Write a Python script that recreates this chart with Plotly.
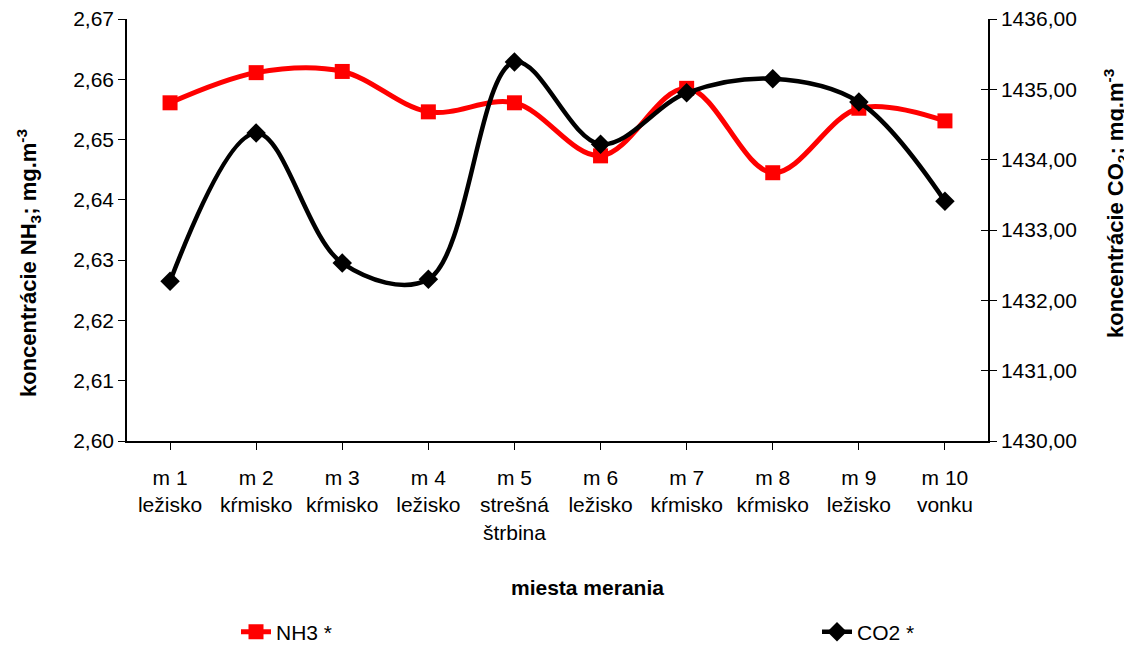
import plotly.graph_objects as go

categories = ["m 1<br>ležisko", "m 2<br>kŕmisko", "m 3<br>kŕmisko", "m 4<br>ležisko",
              "m 5<br>strešná<br>štrbina", "m 6<br>ležisko", "m 7<br>kŕmisko",
              "m 8<br>kŕmisko", "m 9<br>ležisko", "m 10<br>vonku"]
nh3 = [2.6561, 2.6611, 2.6613, 2.6546, 2.6561, 2.6473, 2.6585, 2.6445, 2.6552, 2.6531]
co2 = [1432.27, 1434.38, 1432.53, 1432.30, 1435.39, 1434.22, 1434.95, 1435.15, 1434.82, 1433.41]
left_ticks = [2.60, 2.61, 2.62, 2.63, 2.64, 2.65, 2.66, 2.67]
right_ticks = [1430, 1431, 1432, 1433, 1434, 1435, 1436]

FONT = "Arial, Liberation Sans, sans-serif"
x = list(range(len(categories)))

# page body has an 8px margin; figure coordinates = page coordinates - 8
W, H = 1124, 638
L, R, T, B = 119, 980, 11, 433   # plot area edges in figure px
PW, PH = R - L, B - T


def px(xp):
    return (xp - 8 - L) / PW


def py(yp):
    return (B - (yp - 8)) / PH


fig = go.Figure()
fig.add_trace(go.Scatter(
    x=x, y=nh3, name="NH3 *", mode="lines+markers", showlegend=True,
    line=dict(color="#ff0000", width=5, shape="spline", smoothing=1),
    marker=dict(symbol="square", size=15, color="#ff0000"),
    legend="legend", yaxis="y"))
fig.add_trace(go.Scatter(
    x=x, y=co2, name="CO2 *", mode="lines+markers", showlegend=True,
    line=dict(color="#000000", width=4.5, shape="spline", smoothing=1),
    marker=dict(symbol="diamond", size=15, color="#000000"),
    legend="legend2", yaxis="y2"))
# helper trace for inner tick marks on the right axis (no visible data)
fig.add_trace(go.Scatter(x=[None], y=[None], yaxis="y3", showlegend=False,
                         hoverinfo="skip", mode="markers"))

fig.update_layout(
    width=W, height=H,
    margin=dict(l=L, r=W - R, t=T, b=H - B, autoexpand=False),
    paper_bgcolor="white", plot_bgcolor="white",
    separators=", ",
    showlegend=True,
    font=dict(family=FONT, size=20, color="black"),
    xaxis=dict(
        tickmode="array", tickvals=x, ticktext=categories,
        range=[-0.5, len(categories) - 0.5], automargin=False,
        showgrid=False, zeroline=False, showline=True, linecolor="black", linewidth=1.5,
        ticks="outside", ticklen=7, tickcolor="black", tickson="boundaries",
        ticklabelstandoff=10, ticklabeloverflow="allow",
        tickfont=dict(family=FONT, size=21, color="black")),
    yaxis=dict(
        range=[2.60, 2.67], tickmode="array", tickvals=left_ticks, tickformat=".2f",
        automargin=False, ticklabeloverflow="allow",
        showgrid=False, zeroline=False, showline=True, linecolor="black", linewidth=1.5,
        ticks="outside", ticklen=7, tickcolor="black",
        tickfont=dict(family=FONT, size=21, color="black")),
    yaxis2=dict(
        range=[1430, 1436], tickmode="array", tickvals=right_ticks, tickformat=".2f",
        overlaying="y", side="right", anchor="x", automargin=False,
        ticklabeloverflow="allow",
        showgrid=False, zeroline=False, showline=True, linecolor="black", linewidth=1.5,
        ticks="outside", ticklen=7, tickcolor="black",
        tickfont=dict(family=FONT, size=21, color="black")),
    yaxis3=dict(
        range=[1430, 1436], tickmode="array", tickvals=right_ticks,
        overlaying="y", side="right", anchor="x", automargin=False,
        showgrid=False, zeroline=False, showline=False, showticklabels=False,
        ticks="inside", ticklen=7, tickcolor="black"),
    legend=dict(visible=True, orientation="h", x=px(236), y=py(632),
                xanchor="left", yanchor="middle", bgcolor="rgba(0,0,0,0)",
                font=dict(family=FONT, size=21, color="black")),
    legend2=dict(visible=True, orientation="h", x=px(817), y=py(632),
                 xanchor="left", yanchor="middle", bgcolor="rgba(0,0,0,0)",
                 font=dict(family=FONT, size=21, color="black")),
    annotations=[
        dict(text="<b>koncentrácie NH<sub>3</sub>; mg.m<sup>-3</sup></b>",
             xref="paper", yref="paper", x=px(28), y=py(263),
             textangle=-90, showarrow=False, xanchor="center", yanchor="middle",
             font=dict(family=FONT, size=22, color="black")),
        dict(text="<b>koncentrácie CO<sub>2</sub>; mg.m<sup>-3</sup></b>",
             xref="paper", yref="paper", x=px(1115), y=py(204),
             textangle=-90, showarrow=False, xanchor="center", yanchor="middle",
             font=dict(family=FONT, size=22, color="black")),
        dict(text="<b>miesta merania</b>",
             xref="paper", yref="paper", x=px(587), y=py(587),
             showarrow=False, xanchor="center", yanchor="middle",
             font=dict(family=FONT, size=21, color="black")),
    ],
)

fig.write_html("out.html")
